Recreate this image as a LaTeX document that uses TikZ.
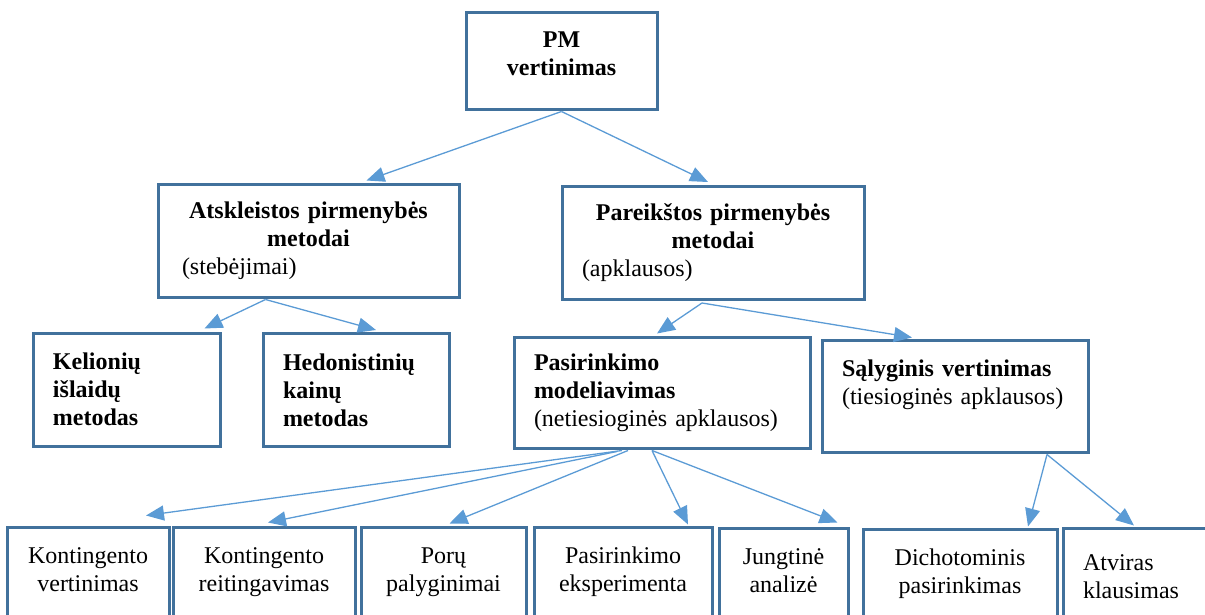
\documentclass[tikz,border=0pt]{standalone}
\usepackage{fontspec}
\setmainfont{Liberation Serif}
\usepackage{tikz}
\usetikzlibrary{calc}
\usetikzlibrary{arrows.meta}
\definecolor{boxblue}{RGB}{65,113,156}
\definecolor{arrowblue}{RGB}{91,155,213}

\begin{document}
\begin{tikzpicture}[x=0.5pt,y=-0.5pt,>={Triangle[length=9pt,width=7.5pt]},
    box/.style={draw=boxblue,line width=1.5pt,fill=white,inner xsep=10pt,inner ysep=0pt,
        minimum height=56.5pt,font=\fontsize{12pt}{14pt}\selectfont},
    lbox/.style={box,align=left,text width={#1-20pt}},
    cbox/.style={box,align=center,minimum width=#1},
    arr/.style={->,draw=arrowblue,line width=0.65pt}]
    \useasboundingbox (0,0) rectangle (1205,615);
    \clip (0,0) rectangle (1205,615);
    \node[cbox=95.5pt,minimum height=48.5pt] (pm) at (561.5,61.5) {\textbf{PM}\\\textbf{vertinimas}\\[-6pt]\mbox{}};
    \node[lbox=150.5pt] (ats) at (308.5,240.5) {\makebox[\linewidth]{\textbf{Atskleistos pirmenybės}}\\\makebox[\linewidth]{\textbf{metodai}}\\\hspace*{2pt}(stebėjimai)};
    \node[lbox=151pt] (par) at (713,243) {\makebox[\linewidth]{\textbf{Pareikštos pirmenybės}}\\\makebox[\linewidth]{\textbf{metodai}}\\(apklausos)};
    \node[lbox=93.5pt] (kel) at (126.5,389.5) {\textbf{Kelionių}\\\textbf{išlaidų}\\\textbf{metodas}};
    \node[lbox=93pt] (hed) at (356,390) {\textbf{Hedonistinių}\\\textbf{kainų}\\\textbf{metodas}};
    \node[lbox=148pt,minimum height=55.5pt] (pmod) at (662,392.5) {\textbf{Pasirinkimo}\\\textbf{modeliavimas}\\(netiesioginės apklausos)};
    \node[lbox=133pt,minimum height=56pt] (sal) at (955,396) {\textbf{Sąlyginis vertinimas}\\(tiesioginės apklausos)\\\mbox{}};
    \node[cbox=81pt] (kv) at (88,583.5) {Kontingento\\vertinimas\\\mbox{}};
    \node[cbox=91pt] (kr) at (264,583.5) {Kontingento\\reitingavimas\\\mbox{}};
    \node[cbox=82.5pt] (por) at (443.5,583.5) {Porų\\palyginimai\\\mbox{}};
    \node[cbox=89pt] (pe) at (623,583.5) {Pasirinkimo\\eksperimenta\\\mbox{}};
    \node[cbox=64.5pt] (jung) at (783.5,584.5) {Jungtinė\\analizė\\\mbox{}};
    \node[cbox=97pt] (dich) at (960,585.5) {Dichotominis\\pasirinkimas\\\mbox{}};
    \node[lbox=76pt] (atv) at (1139,584.5) {Atviras\\klausimas\\[-6pt]\mbox{}};
    \draw[arr] (pm.south) -- ($(ats.north)+(58,-2)$);
    \draw[arr] (pm.south) -- ($(par.north)+(-5,-3)$);
    \draw[arr] ($(ats.south)+(-43,1)$) -- ($(kel.north)+(78,-3)$);
    \draw[arr] ($(ats.south)+(-43,1)$) -- ($(hed.north)+(20,-2)$);
    \draw[arr] ($(par.south)+(-11,2)$) -- ($(pmod.north)+(-5,-2)$);
    \draw[arr] ($(par.south)+(-11,2)$) -- ($(sal.north)+(-43,-1)$);
    \draw[arr] ($(pmod.south)+(-40,1)$) -- ($(kv.north)+(58,-10)$);
    \draw[arr] ($(pmod.south)+(-45,2)$) -- ($(kr.north)+(4,-3)$);
    \draw[arr] ($(pmod.south)+(-34,1)$) -- ($(por.north)+(6,-2)$);
    \draw[arr] ($(pmod.south)+(-10,1)$) -- ($(pe.north)+(65,-1)$);
    \draw[arr] ($(pmod.south)+(-10,1)$) -- ($(jung.north)+(54,-4)$);
    \draw[arr] ($(sal.south)+(92,1)$) -- ($(dich.north)+(68,-1)$);
    \draw[arr] ($(sal.south)+(92,1)$) -- ($(atv.north)+(-5,-1)$);
\end{tikzpicture}
\end{document}
